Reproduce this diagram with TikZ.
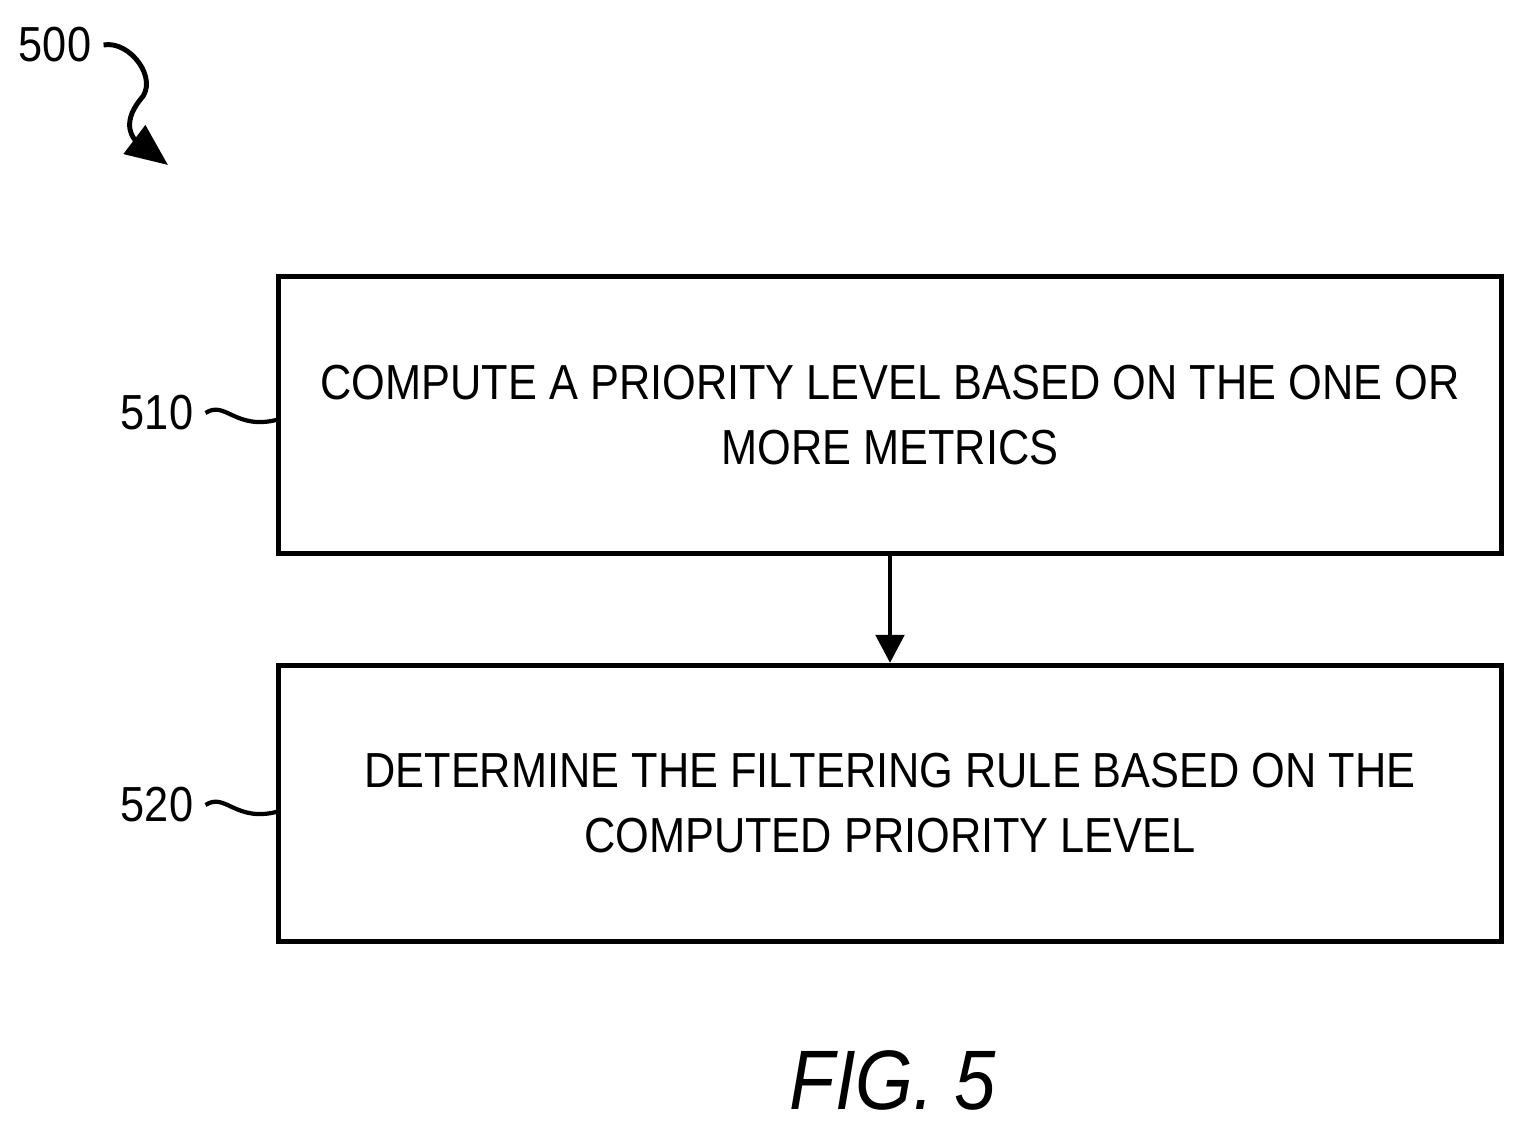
\documentclass[tikz,border=0pt]{standalone}
\usepackage{fontspec}
\setmainfont{Liberation Sans}[FakeStretch=0.88]
\usetikzlibrary{arrows.meta, positioning}
\tikzset{
  stepbox/.style={draw, line width=1.4pt, minimum width=12.22cm, minimum height=2.76cm,
    align=center, font=\fontsize{14}{18.5}\selectfont},
  ref/.style={font=\fontsize{14}{16}\selectfont},
  flow/.style={-{Triangle[length=8pt,width=8pt]}, line width=1.4pt}
}
\begin{document}
\begin{tikzpicture}[x=0.01cm, y=-0.01cm]
  \useasboundingbox (0,0) rectangle (1524,1134);
  \node[stepbox] (s510) at (890,415) {COMPUTE A PRIORITY LEVEL BASED ON THE ONE OR\\MORE METRICS};
  \node[stepbox] (s520) at (890,803.5) {DETERMINE THE FILTERING RULE BASED ON THE\\COMPUTED PRIORITY LEVEL};
  \draw[flow] (s510) -- (s520);
  % reference labels
  \node[ref] (l500) at (55,45) {500};
  \node[ref] (l510) at (157,413) {510};
  \node[ref] (l520) at (157,805) {520};
  \coordinate (t500) at (168,165);
  \draw[line width=1.4pt, -{Triangle[length=12pt,width=10pt]}] (l500.east) .. controls (130,40) and (160,80) .. (140,100)
    .. controls (120,125) and (135,140) .. (t500);
  \draw[line width=1.2pt] (l510.east) .. controls (225,400) and (235,430) .. (s510.west|-0,420);
  \draw[line width=1.2pt] (l520.east) .. controls (225,792) and (235,822) .. (s520.west|-0,812);
  \node[font=\itshape\fontsize{24}{26}\selectfont] (fig) at (893,1080) {FIG. 5};
\end{tikzpicture}
\end{document}
